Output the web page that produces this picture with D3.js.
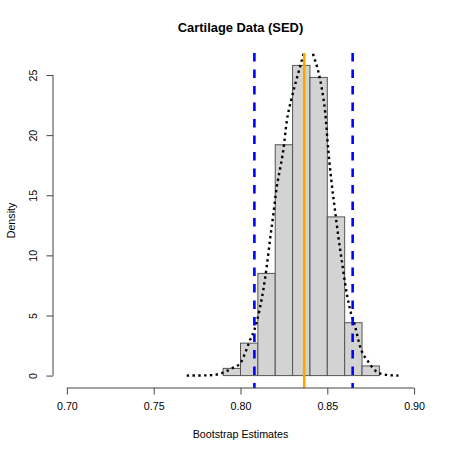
<!DOCTYPE html>
<html>
<head>
<meta charset="utf-8">
<script src="https://cdn.jsdelivr.net/npm/d3@7"></script>
<style>
  body { margin: 0; background: #fff; }
  svg { display: block; font-family: "Liberation Sans", Arial, Helvetica, sans-serif; }
</style>
</head>
<body>
<div id="chart"></div>
<script>
  // histogram bins (density scale)
  const binStarts = [0.79, 0.80, 0.81, 0.82, 0.83, 0.84, 0.85, 0.86, 0.87];
  const binWidth = 0.01;
  const binDensity = [0.6, 2.7, 8.5, 19.2, 25.8, 24.8, 13.2, 4.4, 0.8];

  // kernel density estimate
  const kdeX = [0.769, 0.775, 0.780, 0.7843, 0.790, 0.795, 0.800, 0.8026, 0.8055, 0.808, 0.811, 0.8131,
    0.8151, 0.817, 0.819, 0.8209, 0.8228, 0.8247, 0.8266, 0.8295, 0.8324, 0.8362, 0.839, 0.8419,
    0.8448, 0.8468, 0.8487, 0.8506, 0.8525, 0.8544, 0.8563, 0.8583, 0.8602, 0.8631, 0.866, 0.8689,
    0.8736, 0.8785, 0.884, 0.891];
  const kdeY = [0, 0.01, 0.02, 0.05, 0.24, 0.6, 1.05, 1.85, 2.96, 3.8, 5.5, 7.1,
    9.06, 11.3, 13.5, 15.7, 17.2, 18.8, 21.1, 23.1, 24.7, 26.7, 28.3, 26.7,
    25.3, 23.9, 22.0, 18.7, 16.0, 13.8, 11.6, 9.6, 7.7, 5.5, 4.1, 2.4,
    1.16, 0.32, 0.06, 0];

  const ciBounds = [0.808, 0.8646];
  const estimate = 0.8367;

  const xTicks = [0.70, 0.75, 0.80, 0.85, 0.90];
  const yTicks = [0, 5, 10, 15, 20, 25];
  const xLim = [0.70, 0.90];
  const yLim = [0, 25.8];

  const W = 455, H = 455;
  const plot = { left: 53, right: 428, top: 53, bottom: 388 };

  // R style 4% padding on both ends
  const pad = (lim) => {
    const d = (lim[1] - lim[0]) * 0.04;
    return [lim[0] - d, lim[1] + d];
  };

  const x = d3.scaleLinear().domain(pad(xLim)).range([plot.left, plot.right]);
  const y = d3.scaleLinear().domain(pad(yLim)).range([plot.bottom, plot.top]);

  const svg = d3.select('#chart').append('svg')
    .attr('width', W).attr('height', H);

  svg.append('defs').append('clipPath').attr('id', 'plotClip')
    .append('rect')
    .attr('x', plot.left).attr('y', plot.top)
    .attr('width', plot.right - plot.left).attr('height', plot.bottom - plot.top);

  const bars = svg.append('g').attr('class', 'bars');
  bars.selectAll('rect')
    .data(binStarts)
    .enter().append('rect')
    .attr('x', (d) => x(d))
    .attr('width', (d) => x(d + binWidth) - x(d))
    .attr('y', (d, i) => y(binDensity[i]))
    .attr('height', (d, i) => y(0) - y(binDensity[i]))
    .attr('fill', '#d3d3d3')
    .attr('stroke', '#555')
    .attr('stroke-width', 1);

  const line = d3.line()
    .x((d) => x(d[0]))
    .y((d) => y(d[1]))
    .curve(d3.curveMonotoneX);

  const clipped = svg.append('g').attr('clip-path', 'url(#plotClip)');

  clipped.append('path')
    .datum(d3.zip(kdeX, kdeY))
    .attr('d', line)
    .attr('fill', 'none')
    .attr('stroke', '#000')
    .attr('stroke-width', 2.4)
    .attr('stroke-dasharray', '2.4,3.4');

  clipped.selectAll('.ci')
    .data(ciBounds)
    .enter().append('line')
    .attr('class', 'ci')
    .attr('x1', (d) => x(d)).attr('x2', (d) => x(d))
    .attr('y1', plot.top).attr('y2', plot.bottom)
    .attr('stroke', '#0000ff')
    .attr('stroke-width', 2.6)
    .attr('stroke-dasharray', '8.5,8');

  clipped.append('line')
    .attr('x1', x(estimate)).attr('x2', x(estimate))
    .attr('y1', plot.top).attr('y2', plot.bottom)
    .attr('stroke', '#ffa500')
    .attr('stroke-width', 2.6);

  // axes
  const xAxis = svg.append('g')
    .attr('transform', `translate(0, ${plot.bottom})`)
    .call(d3.axisBottom(x).tickValues(xTicks).tickFormat(d3.format('.2f')).tickSizeOuter(0).tickSize(6.5).tickPadding(8));
  xAxis.select('.domain').attr('d', `M${x(xLim[0])},0H${x(xLim[1])}`);

  const yAxis = svg.append('g')
    .attr('transform', `translate(${plot.left}, 0)`)
    .call(d3.axisLeft(y).tickValues(yTicks).tickSizeOuter(0).tickSize(6.5));
  yAxis.select('.domain').attr('d', `M0,${y(yTicks[0])}V${y(yTicks[yTicks.length - 1])}`);
  yAxis.selectAll('.tick text')
    .attr('transform', 'rotate(-90)')
    .attr('x', 0).attr('y', -16)
    .attr('dy', 0)
    .attr('text-anchor', 'middle');

  svg.selectAll('.domain, .tick line').attr('stroke', '#444');
  svg.selectAll('.tick text')
    .attr('fill', '#000')
    .style('font-size', '10.7px')
    .style('font-family', '"Liberation Sans", Arial, Helvetica, sans-serif');

  svg.append('text')
    .text('Cartilage Data (SED)')
    .attr('x', (plot.left + plot.right) / 2).attr('y', 31.5)
    .attr('text-anchor', 'middle')
    .style('font-size', '12.9px').style('font-weight', 'bold');

  svg.append('text')
    .text('Bootstrap Estimates')
    .attr('x', (plot.left + plot.right) / 2).attr('y', 438)
    .attr('text-anchor', 'middle')
    .style('font-size', '10.7px');

  svg.append('text')
    .text('Density')
    .attr('transform', `translate(15, ${(plot.top + plot.bottom) / 2}) rotate(-90)`)
    .attr('text-anchor', 'middle')
    .style('font-size', '10.7px');
</script>
</body>
</html>
